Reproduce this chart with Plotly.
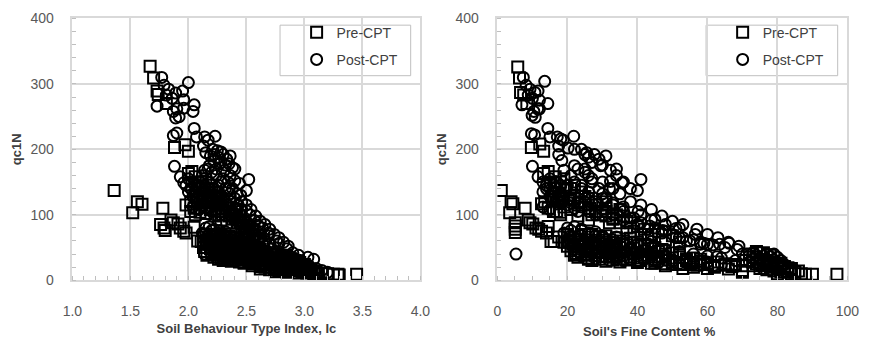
import plotly.graph_objects as go

# ---------------- data: qc1N against Ic (left panel) ----------------
pre_ic_points = [
    (1.67, 327), (1.70, 309), (1.73, 289), (1.74, 284), (1.81, 270), (1.88, 203), (1.97, 207),
    (2.00, 197), (2.00, 163), (2.03, 166),
    (1.36, 137), (1.52, 103), (1.56, 120), (1.60, 116), (1.78, 110), (1.76, 85), (1.79, 80),
    (1.80, 76), (1.85, 92), (1.87, 88), (1.91, 86), (1.93, 80), (1.96, 75), (1.98, 72),
    (2.05, 81), (2.08, 60), (2.11, 59), (2.13, 66),
    (1.98, 115), (2.02, 120), (2.05, 110), (2.10, 104), (2.15, 102), (2.08, 150), (2.10, 140),
    (2.12, 132), (2.14, 125), (2.07, 128),
    (2.15, 155), (2.18, 140), (2.20, 130), (2.22, 120), (2.25, 115), (2.28, 110), (2.30, 105),
    (2.32, 100), (2.35, 98), (2.38, 93), (2.42, 88), (2.46, 80), (2.48, 70), (2.50, 65),
    (2.20, 145), (2.25, 128), (2.30, 120), (2.35, 110), (2.40, 100), (2.45, 90), (2.50, 82),
    (2.55, 70), (2.60, 62), (2.18, 118), (2.26, 100), (2.33, 88),
    (2.03, 145), (2.06, 158), (2.12, 150), (2.16, 138), (2.20, 125), (2.24, 135), (2.28, 125),
    (2.32, 115), (2.36, 105), (2.40, 95), (2.44, 98), (2.48, 88), (2.52, 78), (2.56, 75),
    (2.62, 68), (2.65, 58), (2.10, 120), (2.14, 112), (2.19, 108), (2.23, 98), (2.02, 105),
    (2.06, 100), (2.28, 92), (2.36, 120), (2.42, 108),
    (2.15, 70), (2.22, 70), (2.28, 70), (2.35, 68),
    (2.18, 66), (2.24, 66), (2.30, 66), (2.40, 65), (2.46, 64),
    (2.16, 62), (2.21, 63), (2.26, 62), (2.31, 61), (2.37, 62), (2.43, 60), (2.50, 58),
    (2.19, 58), (2.24, 58), (2.28, 58), (2.33, 58), (2.39, 57), (2.45, 57), (2.53, 55), (2.56, 54),
    (2.18, 55), (2.23, 54), (2.29, 56), (2.34, 55), (2.40, 53), (2.46, 54), (2.52, 52), (2.58, 50),
    (2.20, 51), (2.26, 51), (2.32, 51), (2.38, 50), (2.44, 50), (2.50, 49), (2.56, 48), (2.62, 47),
    (2.19, 48), (2.25, 47), (2.31, 49), (2.36, 48), (2.42, 46), (2.48, 47), (2.54, 45), (2.60, 44),
    (2.66, 42),
    (2.22, 44), (2.28, 44), (2.34, 44), (2.40, 43), (2.46, 43), (2.52, 42), (2.58, 41), (2.64, 40),
    (2.70, 39),
    (2.20, 41), (2.26, 40), (2.32, 42), (2.38, 41), (2.44, 39), (2.50, 40), (2.56, 38), (2.62, 37),
    (2.68, 36), (2.74, 34),
    (2.25, 38), (2.31, 38), (2.37, 37), (2.43, 37), (2.49, 36), (2.55, 36), (2.61, 35), (2.67, 34),
    (2.73, 33), (2.79, 32),
    (2.22, 35), (2.28, 34), (2.34, 36), (2.40, 35), (2.46, 33), (2.52, 34), (2.58, 32), (2.64, 31),
    (2.70, 30), (2.76, 29), (2.82, 28),
    (2.26, 32), (2.33, 32), (2.40, 31), (2.48, 31), (2.56, 30), (2.63, 29), (2.70, 28), (2.78, 27),
    (2.84, 26), (2.90, 25), (2.96, 24),
    (2.30, 30), (2.37, 29), (2.44, 28), (2.52, 27), (2.60, 26), (2.67, 25), (2.74, 24), (2.80, 24),
    (2.86, 23), (2.92, 22),
    (2.48, 26), (2.56, 25), (2.64, 24), (2.72, 23), (2.78, 22), (2.84, 21), (2.90, 20), (2.96, 19),
    (3.02, 18),
    (2.55, 22), (2.62, 21), (2.70, 20), (2.76, 19), (2.82, 19), (2.88, 18), (2.94, 17), (3.00, 16),
    (2.66, 20), (2.74, 18), (2.80, 17), (2.86, 16), (2.92, 16), (2.98, 15), (3.06, 14),
    (2.62, 17), (2.70, 16), (2.78, 15), (2.85, 14), (2.92, 14), (2.98, 13), (3.04, 12),
    (2.75, 13), (2.85, 12), (2.95, 11), (3.02, 11), (3.08, 10), (3.12, 10),
    (2.13, 50), (2.14, 44), (2.16, 38), (2.15, 56),
    (2.84, 38), (2.88, 33), (2.92, 30), (2.96, 27), (3.00, 24),
    (3.00, 18), (3.10, 12), (3.15, 11), (3.20, 10), (3.25, 9), (3.29, 9), (3.30, 8), (3.45, 9),
]

post_ic_points = [
    (1.77, 310), (1.83, 292), (1.73, 266), (1.89, 286), (1.95, 289), (1.96, 276), (2.00, 302),
    (2.05, 268), (1.96, 263), (2.04, 258), (1.87, 258), (1.92, 250), (1.89, 248), (1.79, 298),
    (1.81, 283), (1.86, 278), (1.90, 262),
    (1.87, 221), (1.90, 225), (2.05, 232), (2.07, 219), (2.14, 219), (2.17, 214), (2.23, 220),
    (2.13, 205), (2.15, 195), (2.19, 190), (2.21, 200), (2.25, 198), (2.28, 196), (2.30, 192),
    (2.33, 185), (2.35, 178), (2.38, 172), (2.22, 182), (2.27, 178), (2.31, 168), (2.36, 160),
    (2.40, 152), (2.44, 148), (2.52, 154), (2.50, 137), (2.45, 130),
    (1.88, 174), (1.93, 158), (1.96, 149), (1.98, 145), (2.00, 155), (2.03, 150), (2.06, 145),
    (2.09, 142), (2.12, 160), (2.17, 170), (2.20, 165), (2.24, 160), (2.28, 150), (2.32, 140),
    (2.36, 132), (2.40, 125), (2.43, 115), (2.46, 108), (2.50, 106), (2.53, 100), (2.57, 91),
    (2.60, 84), (2.64, 80), (2.69, 72), (2.69, 68), (2.76, 60), (2.78, 56), (2.85, 48),
    (2.90, 42), (2.95, 38), (3.03, 35), (3.08, 32), (2.14, 40),
    (2.05, 125), (2.08, 118), (2.12, 115), (2.16, 110), (2.20, 112), (2.24, 105), (2.28, 100),
    (2.30, 125), (2.34, 115), (2.38, 105), (2.42, 95), (2.46, 88), (2.50, 80), (2.54, 75),
    (2.58, 70), (2.62, 65), (2.66, 60), (2.70, 55), (2.35, 140), (2.40, 110), (2.45, 100),
    (2.48, 92), (2.52, 85), (2.56, 80),
    (2.02, 140), (2.06, 135), (2.10, 130), (2.14, 145), (2.18, 150), (2.22, 140), (2.26, 135),
    (2.16, 128), (2.20, 122), (2.24, 118), (2.04, 112), (2.09, 108),
    (2.00, 135), (2.04, 128), (2.08, 125), (2.12, 122), (2.16, 118), (2.20, 105), (2.24, 125),
    (2.28, 118), (2.32, 108), (2.36, 100), (2.40, 92), (2.44, 85), (2.48, 78), (2.52, 72),
    (2.56, 65), (2.60, 60), (2.64, 55), (2.26, 145), (2.30, 155), (2.34, 150), (2.38, 140),
    (2.42, 132), (2.46, 120), (2.50, 115), (2.54, 108), (2.58, 98), (2.62, 90), (2.66, 85),
    (2.70, 78), (2.74, 70), (2.78, 65), (2.82, 58), (2.86, 52), (2.28, 180), (2.32, 176),
    (2.36, 190), (2.40, 170), (2.26, 188), (2.24, 170), (2.10, 150), (2.14, 168), (2.18, 175),
    (2.22, 192),
    (2.15, 80), (2.18, 82), (2.22, 78), (2.25, 72), (2.12, 72), (2.28, 68), (2.32, 65),
    (2.38, 62), (2.44, 58), (2.50, 55), (2.56, 50), (2.62, 47), (2.68, 44), (2.74, 40),
    (2.80, 37), (2.86, 34), (2.92, 30), (2.98, 26), (3.04, 22), (3.10, 18), (3.15, 15), (3.20, 12),
    (2.20, 76), (2.27, 76), (2.32, 74),
    (2.17, 68), (2.22, 68), (2.33, 68), (2.40, 66),
    (2.20, 60), (2.27, 60), (2.34, 60), (2.41, 58),
    (2.25, 56), (2.33, 56), (2.41, 55), (2.47, 55),
    (2.22, 52), (2.30, 52), (2.37, 52), (2.45, 50), (2.53, 48),
    (2.27, 48), (2.35, 48), (2.43, 47), (2.51, 46), (2.58, 45),
    (2.24, 44), (2.33, 44), (2.41, 44), (2.49, 43), (2.57, 42), (2.65, 40),
    (2.30, 41), (2.38, 41), (2.46, 40), (2.54, 40), (2.62, 39), (2.70, 38),
    (2.27, 37), (2.36, 37), (2.45, 37), (2.54, 36), (2.63, 35), (2.71, 34), (2.79, 33),
    (2.32, 33), (2.43, 33), (2.52, 32), (2.58, 32), (2.66, 31), (2.74, 30), (2.82, 29),
    (2.40, 30), (2.50, 30), (2.60, 29), (2.70, 28), (2.78, 27), (2.85, 26), (2.90, 25),
    (2.45, 27), (2.55, 27), (2.65, 26), (2.74, 25), (2.82, 24), (2.88, 23), (2.94, 22),
    (2.65, 24), (2.75, 23), (2.85, 22), (2.95, 21),
    (2.80, 18), (2.90, 17), (3.00, 16), (3.06, 15),
    (2.95, 13), (3.05, 13), (3.12, 12),
    (2.80, 40), (2.84, 38), (2.88, 36), (2.92, 33), (2.96, 30), (2.86, 30), (2.90, 27),
    (2.94, 25), (2.98, 22), (3.02, 20), (2.82, 33), (2.78, 35), (3.06, 17), (3.10, 15),
    (2.75, 44), (2.72, 48),
]

# ---------------- data: qc1N against fines content (right panel) ----------------
pre_fc_points = [
    (5.8, 326), (6.3, 309), (6.6, 287), (7.5, 283), (8.4, 270), (9.7, 203), (12.1, 208),
    (13.2, 197), (13.2, 163), (14.5, 166),
    (1.1, 137), (3.5, 103), (3.9, 120), (4.4, 117), (5.1, 88), (5.1, 83), (5.1, 78), (5.1, 73),
    (7.9, 110), (8.8, 92), (9.3, 88), (10.1, 86), (11.0, 80), (11.8, 78), (12.6, 75), (14.0, 72),
    (14.5, 82), (15.3, 59), (16.2, 59), (17.5, 66), (19.0, 58), (20.5, 60),
    (12.6, 117), (13.5, 120), (14.5, 110), (16.9, 105), (17.9, 104), (15.2, 150), (16.3, 140),
    (17.5, 132), (18.5, 125), (15.5, 128),
    (19, 155), (21, 140), (22, 130), (23.5, 120), (25, 115), (26.5, 110), (28, 105), (29.5, 100),
    (31, 98), (33, 93), (35, 88), (37, 80), (39, 75), (41, 70), (43, 65), (22, 145), (25, 128),
    (28, 120), (31, 110), (34, 100), (37, 90), (40, 82), (44, 70), (48, 62), (23, 118),
    (27, 100), (32, 88),
    (15, 145), (16.5, 158), (18, 150), (19.5, 138), (22, 125), (24, 135), (26, 125),
    (28.5, 115), (31, 105), (33, 95), (36, 98), (38, 88), (42, 78), (46, 75), (50, 68), (52, 58),
    (17.5, 120), (19, 112), (21, 108), (23, 98), (16, 105), (18, 100), (26, 92), (31, 120),
    (35, 108),
    (20, 70), (24, 70), (27, 70), (31, 68),
    (22, 66), (26, 66), (29, 66), (34, 65), (38, 64),
    (21, 62), (23.5, 63), (26, 62), (29, 61), (32, 62), (36, 60), (40, 58),
    (22, 58), (25, 58), (28, 58), (31, 58), (34, 57), (38, 57), (42, 55), (44, 54),
    (21.5, 55), (24, 54), (27, 56), (30, 55), (33, 53), (37, 54), (41, 52), (45, 50),
    (23, 51), (26, 51), (29, 51), (32, 50), (35, 50), (39, 49), (43, 48), (47, 47),
    (22, 48), (25, 47), (28, 49), (31, 48), (34, 46), (38, 47), (42, 45), (46, 44), (50, 42),
    (24, 44), (27, 44), (30, 44), (33, 43), (36, 43), (40, 42), (44, 41), (48, 40), (52, 39),
    (22.5, 41), (25.5, 40), (29, 42), (32, 41), (35, 39), (39, 40), (43, 38), (47, 37),
    (52, 36), (56, 34),
    (25, 38), (28, 38), (31, 37), (34, 37), (38, 36), (42, 36), (46, 35), (50, 34), (54, 33),
    (58, 32),
    (23, 35), (26, 34), (30, 36), (33, 35), (37, 33), (41, 34), (45, 32), (49, 31), (54, 30),
    (58, 29), (63, 28),
    (26, 32), (29, 32), (33, 31), (37, 31), (41, 30), (45, 29), (50, 28), (55, 27), (60, 26),
    (65, 25), (68, 24),
    (27, 30), (31, 29), (35, 28), (40, 27), (45, 26), (50, 25), (55, 24), (60, 24), (65, 23),
    (70, 22),
    (44, 26), (48, 25), (52, 24), (57, 23), (62, 22), (67, 21),
    (20, 52), (21, 45), (22, 38), (20, 58),
    (48, 22), (56, 20), (60, 18), (66, 17), (70, 12), (70, 15), (62, 20), (53, 18),
    (72, 40), (74, 44), (76, 42), (78, 38), (73, 35), (75, 32), (77, 30), (79, 28), (81, 26),
    (74, 25), (76, 22), (78, 20), (80, 18), (82, 17), (84, 15), (75, 18), (77, 16), (79, 14),
    (81, 13), (83, 12), (85, 12),
    (73, 28), (75, 26), (77, 24), (79, 22), (81, 21), (83, 19), (74, 32), (76, 30), (78, 27),
    (80, 24), (82, 21), (84, 18), (86, 14), (73, 22), (71, 30),
    (80, 10), (84, 10), (86.8, 10), (88, 9), (90, 9), (97, 9),
]

post_fc_points = [
    (7.4, 310), (9.3, 292), (7.0, 268), (10.7, 287), (11.6, 289), (12.0, 275), (13.5, 304),
    (14.4, 270), (12.0, 262), (10.4, 258), (10.8, 249), (9.9, 252), (8.2, 298), (8.8, 283),
    (10.0, 278), (11.5, 262),
    (9.7, 224), (10.6, 222), (14.4, 232), (15, 219), (17.1, 219), (18.1, 216), (21.8, 220),
    (18.8, 214), (17.5, 205), (18.4, 183), (17.5, 192), (20.2, 202), (22, 200), (24, 200),
    (25.5, 195), (27.7, 192), (29, 185), (29.5, 175), (32.3, 168), (32.3, 151), (35.6, 149),
    (41, 154), (40, 137), (10, 174), (11.6, 158), (13, 150), (14, 145), (15, 155), (16.5, 150),
    (18, 145), (19.5, 140), (21, 160), (23, 170), (25, 165), (26, 160), (27, 150), (29, 140),
    (30, 132), (31, 125), (33, 115), (35, 108), (40.2, 105), (38, 95), (43.5, 83), (45, 93),
    (47.2, 76), (51, 79), (56.5, 70), (59, 56.5), (61.6, 54), (63.5, 55), (66.2, 56.5),
    (68.5, 47), (44, 59), (5.3, 40), (70, 40), (54, 60), (52, 65), (58, 58), (65, 50),
    (62.7, 36),
    (16, 125), (18, 118), (20, 115), (22, 110), (24, 112), (26, 105), (28, 100), (30, 125),
    (33, 118), (36, 105), (39, 95), (41, 88), (45, 80), (48, 75), (50, 70), (53, 65), (56, 62),
    (60, 55), (32, 140), (36, 112), (41, 100), (44, 92), (48, 85), (52, 80),
    (14, 140), (16, 135), (18, 130), (20, 145), (22, 150), (24, 140), (26, 135), (19, 128),
    (21, 122), (23, 118), (13, 112), (15, 108),
    (13, 135), (15, 128), (17, 125), (19, 122), (21, 118), (23, 105), (25, 125), (27, 118),
    (30, 108), (33, 100), (36, 92), (40, 85), (43, 78), (47, 72), (51, 65), (55, 60), (58, 55),
    (24, 145), (27, 155), (30, 150), (33, 140), (35, 132), (38, 120), (41, 115), (44, 108),
    (47, 98), (50, 90), (53, 85), (57, 78), (60, 70), (63, 65), (66, 58), (69, 52), (27, 180),
    (30, 176), (31, 190), (34, 170), (26, 188), (25, 170), (17, 150), (19, 168), (22, 175),
    (25, 192), (34, 160), (36, 150), (38, 140),
    (20, 80), (22, 82), (24, 78), (26, 72), (19, 72), (28, 68), (30, 65), (33, 62), (36, 58),
    (40, 55), (44, 50), (48, 47), (52, 44), (56, 40), (60, 37), (64, 34), (68, 30), (72, 28),
    (21, 76), (24, 76), (28, 74),
    (21, 68), (24, 68), (30, 68), (34, 66),
    (21, 60), (25, 60), (29, 60), (33, 58),
    (24, 56), (28, 56), (32, 55), (36, 55),
    (22, 52), (26, 52), (30, 52), (34, 52), (38, 50),
    (26, 48), (30, 48), (34, 47), (38, 46), (42, 45),
    (23, 44), (27, 44), (31, 44), (35, 44), (39, 44), (43, 42),
    (27, 41), (31, 41), (35, 40), (39, 40), (44, 39), (48, 38),
    (24, 37), (28, 37), (32, 37), (36, 37), (40, 37), (44, 36), (48, 35),
    (28, 33), (34, 33), (38, 32), (42, 32), (48, 31), (54, 30), (58, 29),
    (32, 30), (36, 30), (40, 30), (45, 30), (50, 29), (55, 28), (60, 28),
    (40, 27), (46, 27), (52, 26), (58, 25), (64, 24), (68, 23),
    (50, 24), (56, 24), (62, 23), (68, 22),
    (73, 42), (75, 43), (77, 41), (79, 40), (72, 38), (74, 38), (76, 37), (78, 36), (80, 35),
    (73, 33), (75, 33), (77, 32), (79, 31), (81, 30), (74, 28), (76, 27), (78, 26), (80, 25),
    (82, 24), (75, 22), (77, 21), (79, 20), (81, 19), (83, 18), (76, 17), (78, 16), (80, 15),
    (82, 14), (84, 14),
]

series_names = ["Pre-CPT", "Post-CPT"]
ic_ticks = [1.0, 1.5, 2.0, 2.5, 3.0, 3.5, 4.0]
fc_ticks = [0, 20, 40, 60, 80, 100]
q_ticks = [0, 100, 200, 300, 400]

# ---------------- styling ----------------
W, H = 876, 344
FONT = "Liberation Sans, Arial, sans-serif"
GRID = "#d9d9d9"
TICK_TXT = "#595959"
TITLE_TXT = "#404040"


def px_x(p):
    return p / W


def px_y(p):
    return 1 - p / H


left_dom = [px_x(64), px_x(421)]
right_dom = [px_x(500), px_x(859)]
y_dom = [px_y(285.5), px_y(11)]

marker_common = dict(size=11, color="black", line=dict(width=2, color="black"))

fig = go.Figure()


def add_series(points, symbol, name, xaxis, legend, group):
    xs = [p[0] for p in points]
    ys = [p[1] for p in points]
    fig.add_trace(go.Scatter(
        x=xs, y=ys, mode="markers", name=name,
        marker=dict(symbol=symbol, **marker_common),
        xaxis=xaxis, yaxis="y" if xaxis == "x" else "y2",
        legend=legend, legendgroup=group, showlegend=True,
        hoverinfo="skip",
    ))


add_series(pre_ic_points, "square-open", series_names[0], "x", "legend", "a")
add_series(post_ic_points, "circle-open", series_names[1], "x", "legend", "b")
add_series(pre_fc_points, "square-open", series_names[0], "x2", "legend2", "c")
add_series(post_fc_points, "circle-open", series_names[1], "x2", "legend2", "d")

title_font = dict(family=FONT, size=13, color=TITLE_TXT)
axis_common = dict(
    showgrid=True, gridcolor=GRID, gridwidth=1.5,
    showline=True, linecolor=GRID, linewidth=1.5, mirror=True,
    zeroline=False, ticks="",
    tickfont=dict(family=FONT, size=14, color=TICK_TXT),
)
minor_common = dict(ticks="inside", ticklen=4, tickcolor="#bfbfbf", showgrid=False)

fig.update_layout(
    width=W, height=H,
    margin=dict(l=0, r=0, t=0, b=0),
    paper_bgcolor="white", plot_bgcolor="white",
    font=dict(family=FONT, size=13, color=TITLE_TXT),
    xaxis=dict(domain=left_dom, range=[1, 4], tickvals=ic_ticks,
               ticktext=[f"{v:.1f}" for v in ic_ticks], anchor="y",
               ticklabelstandoff=17, minor=dict(dtick=0.1, **minor_common),
               title=dict(text="<b>Soil Behaviour Type Index, Ic</b>", font=title_font,
                          standoff=6),
               **axis_common),
    yaxis=dict(domain=y_dom, range=[0, 400], tickvals=q_ticks, anchor="x",
               ticklabelstandoff=14, minor=dict(dtick=20, **minor_common),
               title=dict(text="<b>qc1N</b>", font=title_font, standoff=6),
               **axis_common),
    xaxis2=dict(domain=right_dom, range=[0, 100], tickvals=fc_ticks, anchor="y2",
                ticklabelstandoff=17, minor=dict(dtick=5, **minor_common), **axis_common),
    yaxis2=dict(domain=y_dom, range=[0, 400], tickvals=q_ticks, anchor="x2",
                ticklabelstandoff=14, minor=dict(dtick=20, **minor_common),
                title=dict(text="<b>qc1N</b>", font=title_font, standoff=6),
                **axis_common),
    legend=dict(x=px_x(294), y=px_y(9), xanchor="left", yanchor="top",
                bgcolor="rgba(0,0,0,0)", borderwidth=0, tracegroupgap=6,
                font=dict(family=FONT, size=14, color="#404040"), itemwidth=30),
    legend2=dict(x=px_x(731), y=px_y(9), xanchor="left", yanchor="top",
                 bgcolor="rgba(0,0,0,0)", borderwidth=0, tracegroupgap=6,
                 font=dict(family=FONT, size=14, color="#404040"), itemwidth=30),
    showlegend=True,
)

# legend frames
for x0, x1 in [(277, 411), (714, 849)]:
    fig.add_shape(type="rect", xref="paper", yref="paper",
                  x0=px_x(x0), x1=px_x(x1), y0=px_y(71), y1=px_y(18),
                  line=dict(color="#bfbfbf", width=1), fillcolor="white", layer="between")

# right-hand x title sits a little left of the plot centre
fig.add_annotation(text="<b>Soil's Fine Content %</b>", xref="paper", yref="paper",
                   x=px_x(656), y=px_y(339), xanchor="center", yanchor="middle",
                   showarrow=False, font=title_font)

fig.write_html("out.html")
